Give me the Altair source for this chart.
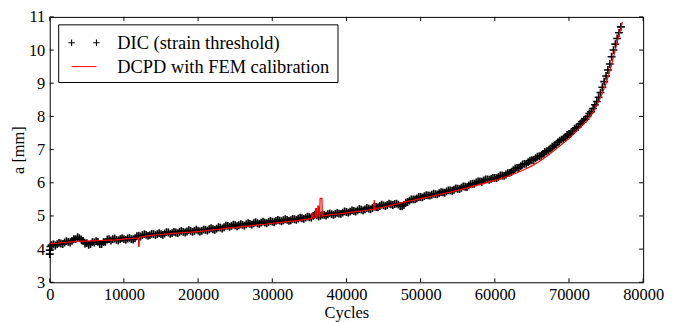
import altair as alt
import pandas as pd

# ---------------- data ----------------
dic_cycles = [
    0, 0, 100, 250, 500, 750, 1000, 1250, 1500, 1750, 2000, 2250, 2500, 2750, 3000, 3250, 3500, 3750,
    4000, 4250, 4500, 4750, 5000, 5250, 5500, 5750, 6000, 6250, 6500, 6750, 7000, 7250, 7500, 7750,
    8000, 8250, 8500, 8750, 9000, 9250, 9500, 9750, 10000, 10250, 10500, 10750, 11000, 11250, 11500, 11750,
    12000, 12250, 12500, 12750, 13000, 13250, 13500, 13750, 14000, 14250, 14500, 14750, 15000, 15250, 15500, 15750,
    16000, 16250, 16500, 16750, 17000, 17250, 17500, 17750, 18000, 18250, 18500, 18750, 19000, 19250, 19500, 19750,
    20000, 20250, 20500, 20750, 21000, 21250, 21500, 21750, 22000, 22250, 22500, 22750, 23000, 23250, 23500, 23750,
    24000, 24250, 24500, 24750, 25000, 25250, 25500, 25750, 26000, 26250, 26500, 26750, 27000, 27250, 27500, 27750,
    28000, 28250, 28500, 28750, 29000, 29250, 29500, 29750, 30000, 30250, 30500, 30750, 31000, 31250, 31500, 31750,
    32000, 32250, 32500, 32750, 33000, 33250, 33500, 33750, 34000, 34250, 34500, 34750, 35000, 35250, 35500, 35750,
    36000, 36250, 36500, 36750, 37000, 37250, 37500, 37750, 38000, 38250, 38500, 38750, 39000, 39250, 39500, 39750,
    40000, 40250, 40500, 40750, 41000, 41250, 41500, 41750, 42000, 42250, 42500, 42750, 43000, 43250, 43500, 43750,
    44000, 44250, 44500, 44750, 45000, 45250, 45500, 45750, 46000, 46250, 46500, 46750, 47000, 47250, 47500, 47750,
    48000, 48250, 48500, 48750, 49000, 49250, 49500, 49750, 50000, 50250, 50500, 50750, 51000, 51250, 51500, 51750,
    52000, 52250, 52500, 52750, 53000, 53250, 53500, 53750, 54000, 54250, 54500, 54750, 55000, 55250, 55500, 55750,
    56000, 56250, 56500, 56750, 57000, 57250, 57500, 57750, 58000, 58250, 58500, 58750, 59000, 59250, 59500, 59750,
    60000, 60250, 60500, 60750, 61000, 61250, 61500, 61750, 62000, 62250, 62500, 62750, 63000, 63250, 63500, 63750,
    64000, 64250, 64500, 64750, 65000, 65250, 65500, 65750, 66000, 66250, 66500, 66750, 67000, 67250, 67500, 67750,
    68000, 68250, 68500, 68750, 69000, 69250, 69500, 69750, 70000, 70250, 70500, 70750, 71000, 71250, 71500, 71750,
    72000, 72250, 72500, 72750, 73000, 73250, 73500, 73750, 74000, 74250, 74500, 74750, 75000, 75250, 75500, 75750,
    76000, 76250, 76500, 76750, 77000,
]
dic_a = [
    3.85, 3.97, 4.08, 4.12, 4.15, 4.11, 4.15, 4.19, 4.17, 4.15, 4.20, 4.24, 4.22, 4.20, 4.25, 4.30, 4.30, 4.36,
    4.33, 4.29, 4.25, 4.17, 4.18, 4.13, 4.15, 4.21, 4.20, 4.24, 4.22, 4.15, 4.15, 4.21, 4.22, 4.29,
    4.30, 4.26, 4.30, 4.32, 4.28, 4.26, 4.30, 4.33, 4.30, 4.28, 4.32, 4.34, 4.30, 4.29, 4.33, 4.39,
    4.40, 4.38, 4.42, 4.45, 4.43, 4.40, 4.42, 4.46, 4.45, 4.42, 4.45, 4.48, 4.45, 4.43, 4.47, 4.51,
    4.50, 4.46, 4.48, 4.52, 4.50, 4.48, 4.52, 4.55, 4.52, 4.50, 4.53, 4.57, 4.55, 4.52, 4.55, 4.59,
    4.56, 4.53, 4.55, 4.59, 4.58, 4.56, 4.60, 4.63, 4.60, 4.58, 4.62, 4.66, 4.65, 4.62, 4.66, 4.71,
    4.70, 4.67, 4.70, 4.74, 4.72, 4.69, 4.72, 4.75, 4.73, 4.71, 4.75, 4.78, 4.76, 4.74, 4.78, 4.81,
    4.78, 4.76, 4.80, 4.83, 4.80, 4.78, 4.82, 4.85, 4.83, 4.81, 4.85, 4.88, 4.86, 4.84, 4.87, 4.90,
    4.88, 4.85, 4.87, 4.91, 4.90, 4.88, 4.92, 4.95, 4.93, 4.91, 4.95, 4.98, 4.96, 4.95, 5.00, 5.04,
    5.02, 4.98, 5.00, 5.04, 5.03, 5.01, 5.05, 5.08, 5.05, 5.03, 5.06, 5.09, 5.07, 5.06, 5.10, 5.14,
    5.12, 5.10, 5.13, 5.17, 5.15, 5.13, 5.17, 5.21, 5.19, 5.17, 5.20, 5.24, 5.22, 5.20, 5.24, 5.28,
    5.27, 5.26, 5.30, 5.34, 5.32, 5.30, 5.33, 5.37, 5.35, 5.33, 5.36, 5.37, 5.34, 5.30, 5.29, 5.33,
    5.40, 5.42, 5.46, 5.50, 5.50, 5.50, 5.53, 5.57, 5.57, 5.56, 5.60, 5.63, 5.62, 5.61, 5.64, 5.67,
    5.66, 5.65, 5.69, 5.72, 5.71, 5.70, 5.74, 5.77, 5.77, 5.76, 5.79, 5.83, 5.82, 5.81, 5.85, 5.89,
    5.88, 5.87, 5.92, 5.96, 5.97, 5.97, 6.01, 6.04, 6.04, 6.03, 6.07, 6.10, 6.10, 6.09, 6.12, 6.15,
    6.15, 6.14, 6.18, 6.22, 6.22, 6.21, 6.25, 6.29, 6.30, 6.32, 6.38, 6.43, 6.45, 6.45, 6.50, 6.55,
    6.57, 6.57, 6.62, 6.67, 6.68, 6.69, 6.74, 6.79, 6.80, 6.81, 6.87, 6.93, 6.95, 6.97, 7.03, 7.09,
    7.12, 7.15, 7.22, 7.27, 7.30, 7.32, 7.38, 7.44, 7.47, 7.49, 7.56, 7.63, 7.66, 7.69, 7.77, 7.84,
    7.88, 7.92, 8.00, 8.09, 8.14, 8.24, 8.35, 8.45, 8.58, 8.72, 8.88, 9.05, 9.22, 9.40, 9.58, 9.80,
    10.00, 10.18, 10.35, 10.52, 10.70,
]

dcpd_cycles = [
    0, 1000, 2000, 3000, 4000, 5000, 6000, 7000, 8000, 9000, 10000, 11000, 11950, 12000, 12050, 12100,
    13000, 14000, 15000, 16000, 17000, 18000, 19000, 20000, 21000, 22000, 23000, 24000, 25000, 26000,
    27000, 28000, 29000, 30000, 31000, 32000, 33000, 34000, 35000, 35300, 35350, 35450, 35500, 35800,
    35850, 35950, 36000, 36100, 36150, 36250, 36300, 36400, 36450, 36700, 36750, 37000, 38000, 39000,
    40000, 41000, 42000, 43000, 43700, 43750, 43800, 44000, 45000, 46000, 47000, 48000, 49000, 50000,
    51000, 52000, 53000, 54000, 55000, 56000, 57000, 58000, 59000, 60000, 61000, 62000, 63000, 64000,
    65000, 66000, 67000, 68000, 69000, 70000, 71000, 72000, 72500, 73000, 73500, 74000, 74500, 75000,
    75500, 76000, 76500, 77000, 77200,
]
dcpd_a = [
    4.17, 4.18, 4.20, 4.22, 4.24, 4.24, 4.25, 4.26, 4.27, 4.28, 4.30, 4.32, 4.34, 4.08, 4.08, 4.36,
    4.39, 4.42, 4.44, 4.46, 4.48, 4.50, 4.51, 4.53, 4.55, 4.58, 4.60, 4.63, 4.65, 4.68,
    4.70, 4.73, 4.75, 4.78, 4.80, 4.83, 4.85, 4.88, 4.91, 4.92, 5.08, 5.08, 4.94, 4.96,
    5.22, 5.22, 4.97, 4.97, 5.30, 5.30, 4.98, 4.98, 5.53, 5.53, 5.00, 5.01, 5.04, 5.06,
    5.09, 5.12, 5.15, 5.18, 5.20, 5.48, 5.20, 5.22, 5.27, 5.32, 5.37, 5.43, 5.47, 5.52,
    5.57, 5.62, 5.67, 5.72, 5.77, 5.83, 5.89, 5.95, 6.01, 6.07, 6.14, 6.22, 6.30, 6.40,
    6.51, 6.64, 6.80, 6.97, 7.15, 7.33, 7.55, 7.78, 7.90, 8.05, 8.22, 8.45, 8.70, 9.00,
    9.35, 9.78, 10.25, 10.65, 10.85,
]

x_ticks = [0, 10000, 20000, 30000, 40000, 50000, 60000, 70000, 80000]
y_ticks = [3, 4, 5, 6, 7, 8, 9, 10, 11]
legend_labels = ["DIC (strain threshold)", "DCPD with FEM calibration"]

# ---------------- chart ----------------
W, H = 597, 267
FONT = "Liberation Serif"
FS = 16.5

dic_df = pd.DataFrame({"cycles": dic_cycles, "a": dic_a})
dcpd_df = pd.DataFrame({"cycles": dcpd_cycles, "a": dcpd_a, "i": list(range(len(dcpd_cycles)))})
xt_df = pd.DataFrame({"v": x_ticks})
yt_df = pd.DataFrame({"v": y_ticks})

xs = alt.Scale(domain=[0, 80000], nice=False)
ys = alt.Scale(domain=[3, 11], nice=False)

PLUS = "M-1,0L1,0M0,-1L0,1"

x_axis = alt.Axis(values=x_ticks, format="d", title="Cycles", grid=False, ticks=False, tickSize=0,
                  domain=False, labelFont=FONT, labelFontSize=FS, labelColor="black",
                  labelPadding=4, titleFont=FONT, titleFontSize=FS, titleFontWeight="normal",
                  titleColor="black", titlePadding=2, labelFlush=False)
y_axis = alt.Axis(values=y_ticks, format="d", title="a [mm]", grid=False, ticks=False, tickSize=0,
                  domain=False, labelFont=FONT, labelFontSize=FS, labelColor="black",
                  labelPadding=5, titleFont=FONT, titleFontSize=FS, titleFontWeight="normal",
                  titleColor="black", titlePadding=2, labelFlush=False)

X = lambda f: alt.X(f, scale=xs, axis=x_axis)
Y = lambda f: alt.Y(f, scale=ys, axis=y_axis)

dic = alt.Chart(dic_df).mark_point(shape=PLUS, filled=False, color="black", size=62,
                                   strokeWidth=1.6, opacity=1).encode(
    x=X("cycles:Q"), y=Y("a:Q"),
)

dcpd = alt.Chart(dcpd_df).mark_line(color="#ff0000", strokeWidth=1.2).encode(
    x=X("cycles:Q"), y=Y("a:Q"), order="i:Q",
)

TL = 4
tick_b = alt.Chart(xt_df).mark_rule(color="black", strokeWidth=1).encode(
    x=X("v:Q"), y=alt.value(H), y2=alt.value(H - TL))
tick_t = alt.Chart(xt_df).mark_rule(color="black", strokeWidth=1).encode(
    x=X("v:Q"), y=alt.value(0), y2=alt.value(TL))
tick_l = alt.Chart(yt_df).mark_rule(color="black", strokeWidth=1).encode(
    y=Y("v:Q"), x=alt.value(0), x2=alt.value(TL))
tick_r = alt.Chart(yt_df).mark_rule(color="black", strokeWidth=1).encode(
    y=Y("v:Q"), x=alt.value(W), x2=alt.value(W - TL))

# legend (drawn by hand to get matplotlib's two-marker look)
one = alt.Data(values=[{"k": 0}])
leg_box = alt.Chart(one).mark_rect(fill="white", stroke="black", strokeWidth=1).encode(
    x=alt.value(9), x2=alt.value(290), y=alt.value(8), y2=alt.value(66))
leg_p1 = alt.Chart(one).mark_point(shape=PLUS, filled=False, color="black", size=42,
                                   strokeWidth=1.1, opacity=1).encode(
    x=alt.value(22), y=alt.value(26))
leg_p2 = alt.Chart(one).mark_point(shape=PLUS, filled=False, color="black", size=42,
                                   strokeWidth=1.1, opacity=1).encode(
    x=alt.value(47), y=alt.value(26))
leg_line = alt.Chart(one).mark_rule(color="#ff0000", strokeWidth=1).encode(
    x=alt.value(22), x2=alt.value(47), y=alt.value(50))
leg_t1 = alt.Chart(one).mark_text(font=FONT, fontSize=18.5, align="left", baseline="middle",
                                  color="black").encode(
    x=alt.value(68), y=alt.value(26), text=alt.value(legend_labels[0]))
leg_t2 = alt.Chart(one).mark_text(font=FONT, fontSize=18.5, align="left", baseline="middle",
                                  color="black").encode(
    x=alt.value(68), y=alt.value(50), text=alt.value(legend_labels[1]))

chart = alt.layer(
    dic, dcpd, tick_b, tick_t, tick_l, tick_r,
    leg_box, leg_p1, leg_p2, leg_line, leg_t1, leg_t2,
).properties(
    width=W, height=H,
    autosize=alt.AutoSizeParams(type="none"),
    padding={"left": 42, "top": 8, "right": 22, "bottom": 40},
).configure_view(
    stroke="black", strokeWidth=1
)

chart.save("out.html", embed_options={"renderer": "svg", "actions": False})
